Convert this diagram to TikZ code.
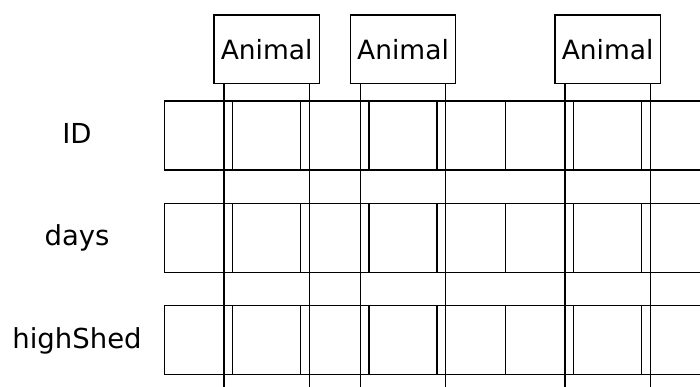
\documentclass[tikz,border=0pt]{standalone}
\usepackage{fontspec}
\setmainfont{DejaVu Sans}
\usetikzlibrary{positioning}
\tikzset{cell/.style={draw,line width=1.5pt,minimum width=68.2pt,minimum height=69pt,inner sep=0pt,outer sep=0pt},
obj/.style={draw,line width=1.5pt,minimum width=105.3pt,minimum height=68.6pt,inner sep=0pt,outer sep=0pt,text height=20pt,text depth=0pt,font=\fontsize{26.5}{30}\selectfont},
field/.style={inner sep=0pt,text height=20pt,text depth=4pt,font=\fontsize{27.5}{30}\selectfont},
ref/.style={line width=1.5pt}}

\begin{document}
\begin{tikzpicture}[x=1pt,y=-1pt,node distance=0pt]
\useasboundingbox (0,0) rectangle (700,387);
\clip (0,0) rectangle (700,387);
% one row of slots per field
\foreach \row/\txt/\yy in {id/ID/135.3,days/days/237.8,shed/highShed/340.2}{
  \node[field] (\row) at (77,\yy) {\txt};
  \node[cell] (\row0) at (198.4,\yy) {};
  \foreach \k [remember=\k as \prev (initially 0)] in {1,...,7}
    \node[cell,right=of \row\prev] (\row\k) {};
}
\node[obj,above=17.4pt of id1] (a1) {Animal};
\node[obj,above=17.4pt of id3] (a2) {Animal};
\node[obj,above=17.4pt of id6] (a3) {Animal};
\coordinate (floor) at (0,395);
\foreach \a in {a1,a2,a3}{
  \draw[ref] ([xshift=10pt]\a.south west)--([xshift=10pt]\a.south west |- floor);
  \draw[ref] ([xshift=-10pt]\a.south east)--([xshift=-10pt]\a.south east |- floor);
}
\end{tikzpicture}
\end{document}
